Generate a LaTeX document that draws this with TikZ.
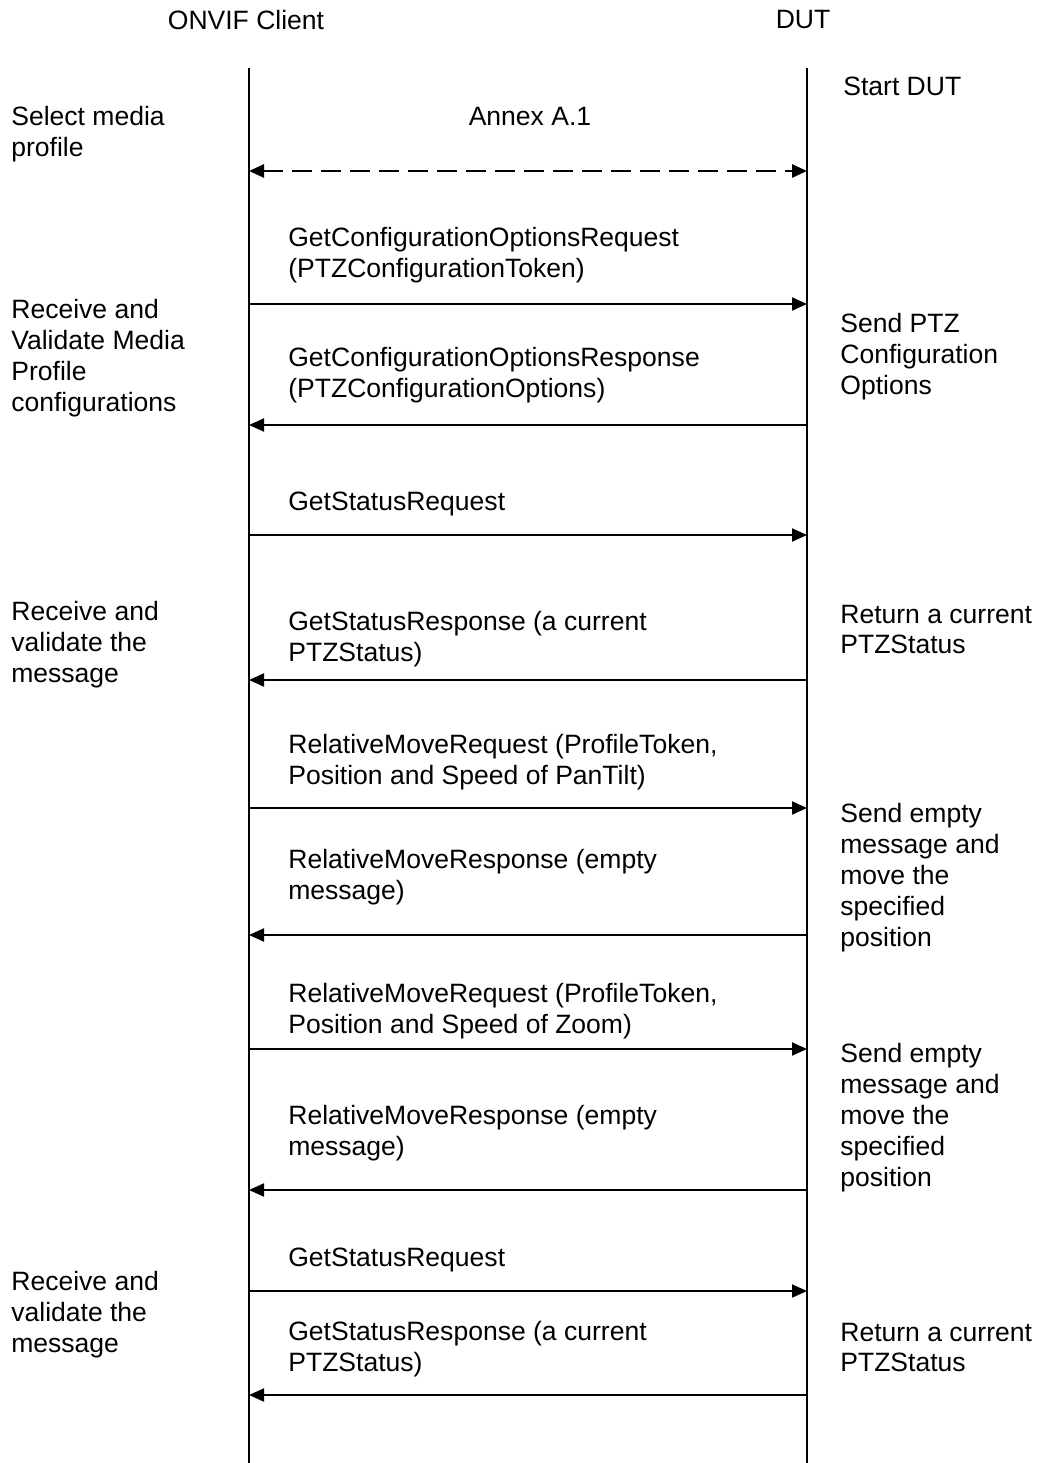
\documentclass[tikz,border=0pt]{standalone}
\usepackage{fontspec}
\setmainfont{Liberation Sans}
\usepackage{tikz}
\usetikzlibrary{positioning, arrows.meta}
\tikzset{
  lifeline/.style={line width=1.1pt, black},
  msg/.style={-{Triangle[length=0.3cm, width=0.26cm]}, line width=1.1pt, black},
  annex/.style={{Triangle[length=0.3cm, width=0.26cm]}-{Triangle[length=0.3cm, width=0.26cm]},
    line width=1.6pt, dash pattern=on 0.4cm off 0.18cm},
  txt/.style={anchor=west, align=left, inner sep=0pt, yshift=-0.06cm, font=\fontsize{15.1}{17.6}\selectfont},
  head/.style={inner sep=0pt, font=\fontsize{15.1}{17.6}\selectfont},
}
\begin{document}
\begin{tikzpicture}[x=0.02cm, y=-0.02cm]
  \useasboundingbox (0,0) rectangle (1041,1463);
  % actors
  \node[head] (client) at (246,20) {ONVIF Client};
  \node[head] (dut) at (803,20) {DUT};
  \coordinate (cTop) at (249,68);
  \coordinate (cBot) at (249,1463);
  \coordinate (dTop) at (807,68);
  \coordinate (dBot) at (807,1463);
  \draw[lifeline] (cTop) -- (cBot);
  \draw[lifeline] (dTop) -- (dBot);
  % message levels
  \foreach \n/\y in {a/171, m1/304, m2/425, m3/535, m4/680, m5/808, m6/935, m7/1049, m8/1190, m9/1291, m10/1395} {
    \coordinate (c\n) at (249,\y);
    \coordinate (d\n) at (807,\y);
  }
  \draw[annex] (ca) -- (da);
  \foreach \n in {m1, m3, m5, m7, m9}
    \draw[msg] (c\n) -- (d\n);
  \foreach \n in {m2, m4, m6, m8, m10}
    \draw[msg] (d\n) -- (c\n);
  % message texts
  \node[head] (annexTxt) at (530,117) {Annex A.1};
  \node[txt] (t1) at (288,252.5) {GetConfigurationOptionsRequest\\(PTZConfigurationToken)};
  \node[txt] (t2) at (288,372.5) {GetConfigurationOptionsResponse\\(PTZConfigurationOptions)};
  \node[txt] (t3) at (288,501) {GetStatusRequest};
  \node[txt] (t4) at (288,636.5) {GetStatusResponse (a current\\PTZStatus)};
  \node[txt] (t5) at (288,759.5) {RelativeMoveRequest (ProfileToken,\\Position and Speed of PanTilt)};
  \node[txt] (t6) at (288,874.5) {RelativeMoveResponse (empty\\message)};
  \node[txt] (t7) at (288,1008.5) {RelativeMoveRequest (ProfileToken,\\Position and Speed of Zoom)};
  \node[txt] (t8) at (288,1130.5) {RelativeMoveResponse (empty\\message)};
  \node[txt] (t9) at (288,1257) {GetStatusRequest};
  \node[txt] (t10) at (288,1346.5) {GetStatusResponse (a current\\PTZStatus)};
  % client side
  \node[txt] (l1) at (11,131.5) {Select media\\profile};
  \node[txt] (l2) at (11,355) {Receive and\\Validate Media\\Profile\\configurations};
  \node[txt] (l3) at (11,642) {Receive and\\validate the\\message};
  \node[txt] (l4) at (11,1312) {Receive and\\validate the\\message};
  % DUT side
  \node[txt] (r0) at (843,83) {Start DUT};
  \node[txt] (r1) at (840,354) {Send PTZ\\Configuration\\Options};
  \node[txt] (r2) at (840,626.5) {Return a current\\PTZStatus};
  \node[txt] (r3) at (840,874.5) {Send empty\\message and\\move the\\specified\\position};
  \node[txt] (r4) at (840,1114.5) {Send empty\\message and\\move the\\specified\\position};
  \node[txt] (r5) at (840,1344.5) {Return a current\\PTZStatus};
\end{tikzpicture}
\end{document}
